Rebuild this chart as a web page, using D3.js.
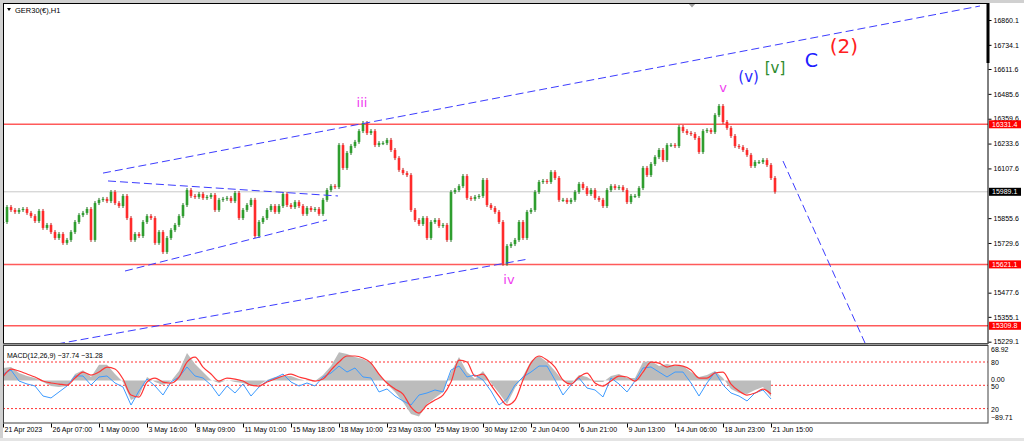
<!DOCTYPE html>
<html lang="en">

<head>
    <meta charset="UTF-8">
    <title>GER30 H1</title>
    <script src="https://d3js.org/d3.v7.min.js"></script>
    <style>
        body { margin: 0; background: #fff; }
        svg { display: block; font-family: "Liberation Sans", "DejaVu Sans", sans-serif; }
    </style>
</head>

<body>
    <div class="canvas"></div>

    <script>
        // closing prices, one candle per ~5 H1 bars
        let closes = [15836, 15912, 15897, 15887, 15897, 15902, 15882, 15866, 15841, 15892,
            15806, 15821, 15785, 15755, 15775, 15730, 15745, 15785, 15836, 15871,
            15882, 15902, 15745, 15932, 15948, 15953, 15942, 15988, 15932, 15917,
            15968, 15856, 15745, 15775, 15765, 15836, 15866, 15856, 15730, 15785,
            15684, 15755, 15795, 15821, 15866, 15922, 15998, 15968, 15963, 15978,
            15958, 15963, 15973, 15897, 15948, 15953, 15958, 15942, 15983, 15856,
            15897, 15922, 15948, 15765, 15836, 15856, 15897, 15917, 15887, 15917,
            15978, 15922, 15912, 15937, 15917, 15877, 15907, 15897, 15902, 15877,
            15948, 15998, 16018, 16013, 16226, 16110, 16186, 16221, 16242, 16297,
            16338, 16287, 16297, 16226, 16236, 16236, 16252, 16201, 16160, 16100,
            16084, 16074, 15897, 15846, 15826, 15856, 15755, 15836, 15846, 15816,
            15821, 15745, 15988, 15998, 16018, 16069, 15958, 15953, 15963, 15968,
            16049, 15922, 15907, 15887, 15836, 15624, 15714, 15724, 15745, 15836,
            15755, 15887, 15897, 15988, 16039, 16044, 16039, 16089, 16059, 15948,
            15948, 15937, 15948, 15988, 16029, 16008, 15978, 15998, 15958, 15948,
            15917, 15998, 16018, 16008, 16013, 15998, 15937, 15968, 15968, 16008,
            16110, 16074, 16130, 16165, 16201, 16150, 16226, 16226, 16221, 16318,
            16297, 16287, 16282, 16262, 16191, 16297, 16302, 16292, 16378, 16424,
            16343, 16313, 16272, 16221, 16216, 16201, 16176, 16120, 16140, 16140,
            16150, 16125, 16059, 15989.1];
        let lastPrice = 15989.1;

        let priceTicks = [16860.1, 16734.1, 16611.6, 16485.6, 16359.6, 16233.6, 16107.6,
            15855.6, 15729.6, 15477.6, 15355.1, 15229.1];
        let levelLines = [16331.4, 15621.1, 15309.8];

        let timeLabels = ["21 Apr 2023", "26 Apr 07:00", "1 May 00:00", "3 May 16:00", "8 May 09:00",
            "11 May 01:00", "15 May 18:00", "18 May 10:00", "23 May 03:00", "25 May 19:00",
            "30 May 12:00", "2 Jun 04:00", "6 Jun 21:00", "9 Jun 13:00", "14 Jun 06:00",
            "18 Jun 23:00", "21 Jun 15:00"];

        // indicator window, one value every 2 candles
        let macdMain = [29.2, 31.5, 17.5, 10.5, 5.8, -3.5, -12.8, -15.2, -12.8, 15,
            24, 8, 37, 37, 15.2, -3.5, -45.5, -36.2, 8.2, -3.5,
            -10.5, -1.2, 22.2, 64.2, 38.5, 19.8, 1.2, -5.8, 1.2, -3.5,
            -5.8, -12.8, -10.5, 1.2, 8.2, 10.5, 10.5, 3.5, -1.2, -1.2,
            12.8, 33.8, 66, 62, 54.8, 50.2, 40.8, 15.2, -8.2, -26.8,
            -50.2, -78, -84, -54.8, -40.8, -26.8, 19.8, 54.8, 19.8, 3.5,
            22.2, -5.8, -29.2, -54.8, -17.5, 10.5, 45.5, 57.2, 43.2, 22.2,
            -1.2, -8.2, 12.8, 8.2, -3.5, -3.5, 10.5, 15.2, 5.8, 5.8,
            43.2, 45.5, 33.8, 38.5, 33.8, 33.8, 19.8, 8.2, 12.8, 22.2,
            5.8, -19.8, -29.2, -31.5, -22.2, -15.2, -37.74];
        let macdSignal = [8.2, 26.8, 22.2, 15.2, 8.2, -1.2, -5.8, -8.2, -10.5, 5.8,
            19.8, 12.8, 19.8, 31.5, 26.8, 3.5, -33.8, -38.5, -3.5, 5.8,
            -3.5, -5.8, 8.2, 43.2, 54.8, 31.5, 15.2, -1.2, 5.8, 3.5,
            -1.2, -10.5, -12.8, -3.5, 3.5, 10.5, 15.2, 8.2, 3.5, -1.2,
            3.5, 24.5, 43.2, 57.2, 57.2, 52.5, 40.8, 15.2, -5.8, -19.8,
            -31.5, -61.8, -75.8, -57.2, -45.5, -33.8, -3.5, 47.8, 43.2, 10.5,
            15.2, -10.5, -36.2, -57.2, -45.5, 1.2, 40.8, 57.2, 47.8, 31.5,
            1.2, -8.2, 8.2, 17.5, -5.8, -12.8, -1.2, 10.5, 8.2, -1.2,
            19.8, 43.2, 40.8, 31.5, 36.2, 33.8, 24.5, 5.8, 5.8, 17.5,
            19.8, -8.2, -24.5, -33.8, -29.2, -19.8, -31.28];
        let oscLine = [64.5, 69.7, 55.5, 51.7, 49.1, 36.2, 33.7, 41.4, 49.1, 62,
            62, 50.4, 60.7, 62, 53, 47.8, 24.6, 42.7, 58.1, 49.1,
            37.5, 54.2, 60.7, 73.6, 62, 59.4, 50.4, 36.2, 49.1, 40.1,
            51.7, 36.2, 47.8, 55.5, 59.4, 64.5, 54.2, 49.1, 53, 49.1,
            60.7, 65.8, 74.8, 67.1, 72.3, 60.7, 59.4, 41.4, 45.3, 36.2,
            29.8, 24.6, 37.5, 40.1, 44, 41.4, 69.7, 74.8, 60.7, 63.3,
            56.8, 42.7, 24.6, 32.4, 50.4, 60.7, 67.1, 74.8, 74.8, 56.8,
            37.5, 50.4, 59.4, 46.5, 44, 35, 59.4, 51.7, 41.4, 55.5,
            72.3, 73.6, 67.1, 60.7, 67.1, 67.1, 53, 36.2, 53, 67.1,
            50.4, 40.1, 36.2, 29.8, 40.1, 44, 32.4];
        let oscLevels = [80, 50, 20];
        let macdRange = [-89.71, 68.92];

        // trend lines: [bar, price, bar, price]
        let trendLines = [[25, 16084, 244.25, 16931], [13.5, 15217.5, 131.25, 15648],
            [26.25, 16044, 83.75, 15968], [30.5, 15587.5, 81, 15846], [195, 16145, 215.5, 15222.5]];

        let waveText = ["iii", "iv", "v", "(v)", "[v]", "C", "(2)"];
        let waveBar = [89.75, 126.5, 180, 186.4, 193, 202.1, 210.2];
        let wavePrice = [16444, 15545, 16520, 16571, 16617, 16657, 16728];
        let waveColor = ["#f03cf0", "#f03cf0", "#f03cf0", "#2b2bff", "#2e8b2e", "#2020ff", "#ff2020"];
        let waveSize = [13, 13, 13, 15, 15, 19, 20];

        // layout
        let left = 3, right = 988, mainTop = 3, mainBottom = 343, subTop = 346, subBottom = 423;

        let svg = d3.select(".canvas").append("svg")
            .attr("width", 1024).attr("height", 441);

        let x = d3.scaleLinear().domain([0, 192]).range([3, 771]);
        let y = d3.scaleLinear().domain([15229.1, 16860.1]).range([341.7, 20]);
        let yMacd = d3.scaleLinear().domain(macdRange).range([419, 351]);
        let yOsc = d3.scaleLinear().domain([20, 80]).range([408.6, 362]);

        // window chrome
        svg.append("rect").attr("width", 1024).attr("height", 441).attr("fill", "#fff");
        svg.append("rect").attr("x", 0).attr("y", 0).attr("width", 3).attr("height", 441).attr("fill", "#d0d0d0");
        svg.append("rect").attr("x", 0).attr("y", 0).attr("width", 1024).attr("height", 3).attr("fill", "#d0d0d0");
        svg.append("rect").attr("x", 0).attr("y", 438).attr("width", 1024).attr("height", 3).attr("fill", "#e4e4e4");

        let defs = svg.append("defs");
        defs.append("clipPath").attr("id", "clipMain").append("rect")
            .attr("x", left).attr("y", mainTop).attr("width", right - left).attr("height", mainBottom - mainTop);
        defs.append("clipPath").attr("id", "clipSub").append("rect")
            .attr("x", left).attr("y", subTop).attr("width", right - left).attr("height", subBottom - subTop);

        // main window
        let main = svg.append("g").attr("clip-path", "url(#clipMain)");

        main.append("line")
            .attr("x1", left).attr("x2", right)
            .attr("y1", y(lastPrice)).attr("y2", y(lastPrice))
            .attr("stroke", "#c8c8c8").attr("stroke-width", 1);

        main.selectAll(".level").data(levelLines).enter().append("line")
            .attr("class", "level")
            .attr("x1", left).attr("x2", right)
            .attr("y1", d => y(d)).attr("y2", d => y(d))
            .attr("stroke", "#ff5a5a").attr("stroke-width", 1.5);

        let candles = closes.map((c, i) => ({ i: i, o: i ? closes[i - 1] : c, c: c }));
        let wick = 10;
        main.selectAll(".wick").data(candles).enter().append("line")
            .attr("class", "wick")
            .attr("x1", d => x(d.i)).attr("x2", d => x(d.i))
            .attr("y1", d => y(Math.max(d.o, d.c) + wick))
            .attr("y2", d => y(Math.min(d.o, d.c) - wick))
            .attr("stroke", d => d.c >= d.o ? "#1f6f1f" : "#b81c1c");
        main.selectAll(".body").data(candles).enter().append("rect")
            .attr("class", "body")
            .attr("x", d => x(d.i) - 1.3).attr("width", 2.6)
            .attr("y", d => y(Math.max(d.o, d.c)))
            .attr("height", d => Math.max(1, Math.abs(y(d.o) - y(d.c))))
            .attr("fill", d => d.c >= d.o ? "#2f9e2f" : "#ff2b2b");

        main.selectAll(".trend").data(trendLines).enter().append("line")
            .attr("class", "trend")
            .attr("x1", d => x(d[0])).attr("y1", d => y(d[1]))
            .attr("x2", d => x(d[2])).attr("y2", d => y(d[3]))
            .attr("stroke", "#3c3cff").attr("stroke-width", 1)
            .attr("stroke-dasharray", "8,4");

        main.selectAll(".wave").data(waveText).enter().append("text")
            .attr("class", "wave")
            .attr("x", (d, i) => x(waveBar[i]))
            .attr("y", (d, i) => y(wavePrice[i]))
            .attr("text-anchor", "middle")
            .attr("dominant-baseline", "central")
            .attr("fill", (d, i) => waveColor[i])
            .attr("font-size", (d, i) => waveSize[i] + "px")
            .attr("font-family", "'DejaVu Sans', sans-serif")
            .text(d => d);

        // title + shift marker
        svg.append("path").attr("d", "M7,8 L11,8 L9,11 Z").attr("fill", "#000");
        svg.append("text").attr("x", 15).attr("y", 12.5)
            .attr("font-size", "7.5px").attr("fill", "#000").text("GER30(€),H1");
        svg.append("path").attr("d", "M688,3 L696,3 L692,7.5 Z").attr("fill", "#a0a0a0");

        // indicator window
        let sub = svg.append("g").attr("clip-path", "url(#clipSub)");
        sub.selectAll(".osclevel").data(oscLevels).enter().append("line")
            .attr("class", "osclevel")
            .attr("x1", left).attr("x2", right)
            .attr("y1", d => yOsc(d)).attr("y2", d => yOsc(d))
            .attr("stroke", "#ff3030").attr("stroke-width", 1)
            .attr("stroke-dasharray", "2,2");

        sub.append("path").datum(macdMain)
            .attr("fill", "#bcbcbc")
            .attr("d", d3.area().x((d, k) => x(2 * k)).y0(yMacd(0)).y1(d => yMacd(d)));
        sub.append("path").datum(oscLine)
            .attr("fill", "none").attr("stroke", "#3d9bff").attr("stroke-width", 1)
            .attr("d", d3.line().x((d, k) => x(2 * k)).y(d => yOsc(d)));
        sub.append("path").datum(macdSignal)
            .attr("fill", "none").attr("stroke", "#ff3535").attr("stroke-width", 1.2)
            .attr("d", d3.line().curve(d3.curveMonotoneX).x((d, k) => x(2 * k)).y(d => yMacd(d)));

        svg.append("text").attr("x", 7).attr("y", 358)
            .attr("font-size", "7px").attr("fill", "#000")
            .text("MACD(12,26,9) " + d3.format(".2f")(macdMain[macdMain.length - 1]) + " " +
                d3.format(".2f")(macdSignal[macdSignal.length - 1]));

        // frames
        svg.append("rect").attr("x", 3.5).attr("y", 3.5).attr("width", right - 3.5).attr("height", mainBottom - 3)
            .attr("fill", "none").attr("stroke", "#000").attr("stroke-width", 1);
        svg.append("rect").attr("x", 3).attr("y", mainBottom + 0.5).attr("width", right - 3).attr("height", 2)
            .attr("fill", "#9a9a9a");
        svg.append("rect").attr("x", 3.5).attr("y", subTop - 0.5).attr("width", right - 3.5).attr("height", subBottom - subTop + 0.5)
            .attr("fill", "none").attr("stroke", "#404040").attr("stroke-width", 1);
        svg.append("rect").attr("x", right - 1.5).attr("y", 3).attr("width", 3).attr("height", 60).attr("fill", "#000");

        // price axis
        let axisFont = g => g.attr("font-size", 7).attr("font-family", "'Liberation Sans', sans-serif");
        svg.append("g").attr("transform", "translate(" + (right + 0.5) + ",0)")
            .call(d3.axisRight(y).tickValues(priceTicks).tickSize(3).tickPadding(2).tickFormat(d3.format(".1f")))
            .call(axisFont)
            .call(g => g.select(".domain").remove())
            .call(g => g.selectAll("line").attr("stroke", "#000"))
            .call(g => g.selectAll("text").attr("fill", "#000"));

        let tags = levelLines.map(v => ({ v: v, c: "#ff0000" })).concat([{ v: lastPrice, c: "#000" }]);
        let tag = svg.selectAll(".tag").data(tags).enter().append("g").attr("class", "tag");
        tag.append("rect")
            .attr("x", right + 1).attr("y", d => y(d.v) - 4)
            .attr("width", 32).attr("height", 8)
            .attr("fill", d => d.c);
        tag.append("text")
            .attr("x", right + 4).attr("y", d => y(d.v) + 2.6)
            .attr("font-size", "7px").attr("fill", "#fff")
            .text(d => d3.format(".1f")(d.v));

        // indicator axis
        svg.append("g").attr("transform", "translate(" + (right + 1) + ",-1.5)")
            .call(d3.axisRight(yMacd).tickValues([macdRange[1], 0, macdRange[0]]).tickSize(0).tickPadding(2).tickFormat(d3.format(".2f")))
            .call(axisFont)
            .call(g => g.select(".domain").remove())
            .call(g => g.selectAll("text").attr("fill", "#000"));
        svg.append("g").attr("transform", "translate(" + (right + 1) + ",0.5)")
            .call(d3.axisRight(yOsc).tickValues(oscLevels).tickSize(0).tickPadding(2))
            .call(axisFont)
            .call(g => g.select(".domain").remove())
            .call(g => g.selectAll("text").attr("fill", "#000"));

        // time axis
        svg.append("g").attr("transform", "translate(0," + (subBottom + 0.5) + ")")
            .call(d3.axisBottom(x).tickValues(d3.range(0, 193, 12)).tickSize(4)
                .tickFormat((d, i) => timeLabels[i]))
            .call(axisFont)
            .call(g => g.select(".domain").remove())
            .call(g => g.selectAll("line").attr("stroke", "#000"))
            .call(g => g.selectAll("text").attr("text-anchor", "start").attr("x", 1).attr("y", 4).attr("fill", "#000"));
    </script>
</body>

</html>
